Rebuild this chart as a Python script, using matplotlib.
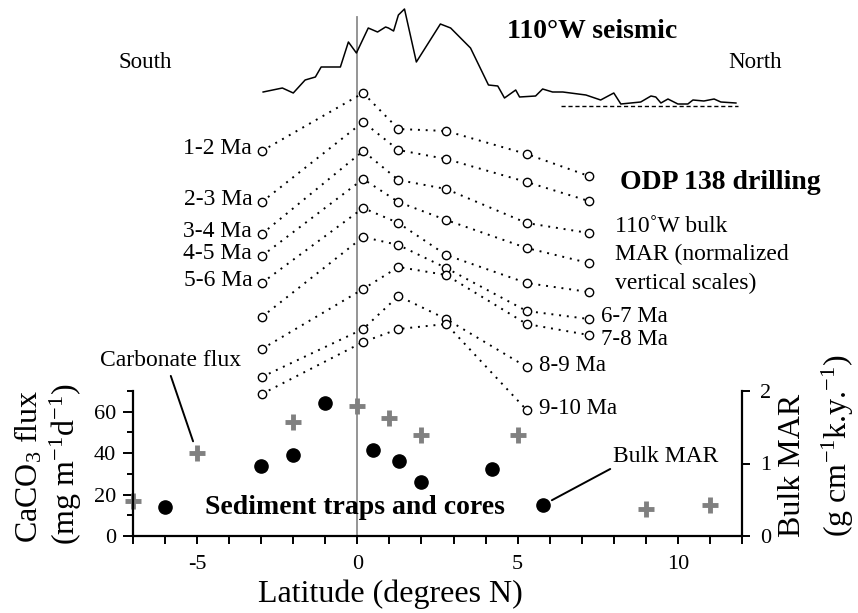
import numpy as np
import matplotlib.pyplot as plt

plt.rcParams['font.family'] = ['Liberation Serif', 'DejaVu Serif']
plt.rcParams['mathtext.fontset'] = 'custom'
plt.rcParams['mathtext.rm'] = 'Liberation Serif'
plt.rcParams['mathtext.default'] = 'regular'
plt.rcParams['axes.unicode_minus'] = False
plt.rcParams['xtick.labelsize'] = 16
plt.rcParams['ytick.labelsize'] = 16

# --- sediment traps and cores (bottom panel) ---
flux_lat = [-7, -5, -2, 0, 1, 2, 5, 9, 11]
flux_caco3 = [17, 40, 55, 63, 57, 49, 49, 13, 15]          # mg m-1 d-1

mar_lat = [-6, -3, -2, -1, 0.5, 1.3, 2, 4.2, 5.8]
mar_bulk = [0.40, 0.96, 1.12, 1.83, 1.18, 1.03, 0.74, 0.92, 0.43]   # g cm-1 k.y.-1

# --- ODP 138 drilling, bulk MAR at 110W, stacked (normalized vertical scales) ---
odp_lat = [-2.98, 0.18, 1.28, 2.77, 5.28, 7.22]
ages = ['1-2 Ma', '2-3 Ma', '3-4 Ma', '4-5 Ma', '5-6 Ma',
        '6-7 Ma', '7-8 Ma', '8-9 Ma', '9-10 Ma']
odp_stack = [
    [385, 443, 407, 405, 382, 360],
    [334, 414, 386, 377, 354, 335],
    [302, 385, 356, 347, 313, 303],
    [280, 357, 334, 316, 288, 273],
    [253, 328, 313, 281, 253, 244],
    [219, 299, 291, 268, 225, 217],
    [187, 247, 269, 261, 212, 201],
    [159, 207, 240, 217, 169],
    [142, 194, 207, 212, 126],
]

# --- 110W seismic sediment thickness (relative units) ---
seis_lat = [-2.94, -2.34, -2.0, -1.63, -1.31, -1.13, -0.53, -0.28, -0.03, 0.34,
            0.63, 0.88, 0.97, 1.13, 1.28, 1.47, 1.84, 2.59, 2.91, 3.53,
            4.09, 4.38, 4.59, 4.94, 5.06, 5.56, 5.78, 6.09, 6.41, 7.13,
            7.59, 8.0, 8.22, 8.84, 9.16, 9.31, 9.47, 9.69, 10.0, 10.31,
            10.47, 10.81, 11.13, 11.34, 11.81]
seis_amp = [14, 18, 13, 26, 29, 39, 39, 64, 53, 78,
            74, 79, 78, 75, 91, 97, 44, 82, 78, 58,
            21, 20, 8, 16, 9, 10, 17, 14, 14, 11,
            6, 13, 2, 4, 10, 9, 3, 7, 2, 2,
            6, 5, 7, 4, 3]

W_PX, H_PX = 858, 613


def fpos(x, y):
    # figure pixel (from top-left) -> figure fraction
    return x / W_PX, 1 - y / H_PX


fig = plt.figure(figsize=(8.58, 6.13), dpi=100)
left, width = 133 / W_PX, 609 / W_PX
ax_up = fig.add_axes([left, 77 / H_PX, width, 536 / H_PX], zorder=0)
ax = fig.add_axes([left, 77 / H_PX, width, 145 / H_PX], zorder=1)
ax.patch.set_visible(False)
ax2 = ax.twinx()

# upper overlay: seismic + ODP stacks
ax_up.set_xlim(-7, 12)
ax_up.set_ylim(0, 536)
ax_up.axis('off')
ax_up.axvline(0, ymin=0, ymax=519 / 536, color='#8c8c8c', lw=1.3, zorder=0)

seis_base = 430
ax_up.plot(seis_lat, seis_base + np.array(seis_amp), color='black', lw=1.1)
ax_up.hlines(seis_base, 6.34, 11.87, color='black', lw=1, linestyles=(0, (3, 2)))

# label offsets (points) next to the end circles
label_dy = [2, 2, 2, 2, 2, 2, -3, 1, 1]
for i, (age, vals) in enumerate(zip(ages, odp_stack)):
    lats = odp_lat[:len(vals)]
    ax_up.plot(lats, vals, ls=(0, (1, 3)), lw=1.4, color='black',
               marker='o', ms=6, mfc='white', mec='black', mew=1, zorder=3)
    if i < 5:
        ax_up.annotate(age, (lats[0], vals[0]), xytext=(-7, label_dy[i]),
                       textcoords='offset points', ha='right', va='center', fontsize=17)
    else:
        ax_up.annotate(age, (lats[-1], vals[-1]), xytext=(9, label_dy[i]),
                       textcoords='offset points', ha='left', va='center', fontsize=16.5)

# bottom panel
ax.plot(flux_lat, flux_caco3, ls='none', marker='+', color='#808080', ms=11, mew=3.5,
        clip_on=False)
ax2.plot(mar_lat, mar_bulk, ls='none', marker='o', color='black', ms=9.5)

ax.set_xlim(-7, 12)
ax.set_ylim(0, 70)
ax2.set_ylim(0, 2)

ax.set_xticks([-5, 0, 5, 10])
ax.set_xticks(range(-7, 13), minor=True)
ax.set_yticks([0, 20, 40, 60])
ax.set_yticks([10, 30, 50, 70], minor=True)
ax2.set_yticks([0, 1, 2])

ax.tick_params(axis='x', which='both', direction='out', length=6, width=1.4, pad=8)
ax.tick_params(axis='y', which='major', direction='out', length=7, width=1.4, pad=5)
ax.tick_params(axis='y', which='minor', direction='out', length=4, width=1.4)
ax2.tick_params(axis='y', direction='out', length=6, width=1.4, pad=7)

for s in ['top', 'right']:
    ax.spines[s].set_visible(False)
for s in ['top', 'left', 'bottom']:
    ax2.spines[s].set_visible(False)
ax.spines['left'].set_linewidth(1.6)
ax.spines['bottom'].set_linewidth(1.6)
ax2.spines['right'].set_linewidth(1.6)

# annotations
ax.annotate('Carbonate flux', xy=(-5, 40), xytext=(171, H_PX - 360),
            textcoords='figure pixels', ha='center', va='center', fontsize=17,
            arrowprops=dict(arrowstyle='-', color='black', lw=1.4,
                            relpos=(0.46, 0.5), shrinkB=9))
ax2.annotate('Bulk MAR', xy=(5.8, 0.43), xytext=(613, H_PX - 457),
             textcoords='figure pixels', ha='left', va='center', fontsize=17,
             arrowprops=dict(arrowstyle='-', color='black', lw=1.4,
                             relpos=(0, 0), shrinkA=0, shrinkB=7))

fig.text(*fpos(205, 508), 'Sediment traps and cores', fontsize=20, fontweight='bold',
         ha='left', va='center')
fig.text(*fpos(507, 32), '110°W seismic', fontsize=20, fontweight='bold', ha='left', va='center')
fig.text(*fpos(620, 183), 'ODP 138 drilling', fontsize=20, fontweight='bold', ha='left', va='center')
fig.text(*fpos(615, 226), '110˚W bulk', fontsize=17, ha='left', va='center')
fig.text(*fpos(615, 254), 'MAR (normalized', fontsize=17, ha='left', va='center')
fig.text(*fpos(615, 283), 'vertical scales)', fontsize=17, ha='left', va='center')
fig.text(*fpos(145, 62), 'South', fontsize=16.5, ha='center', va='center')
fig.text(*fpos(728, 62), 'North', fontsize=16.5, ha='left', va='center')

# axis labels
fig.text(*fpos(390, 594), 'Latitude (degrees N)', fontsize=23, ha='center', va='center')
fig.text(*fpos(29, 543), 'CaCO$_3$ flux', fontsize=23, rotation=90, ha='center', va='bottom')
fig.text(*fpos(66, 545), '(mg m$^{-1}$d$^{-1}$)', fontsize=23, rotation=90, ha='center', va='bottom')
fig.text(*fpos(793, 537), 'Bulk MAR', fontsize=23, rotation=90, ha='center', va='bottom')
fig.text(*fpos(838, 537), '(g cm$^{-1}$k.y.$^{-1}$)', fontsize=23, rotation=90, ha='center', va='bottom')

fig.savefig('out.png', dpi=100, facecolor='white')
